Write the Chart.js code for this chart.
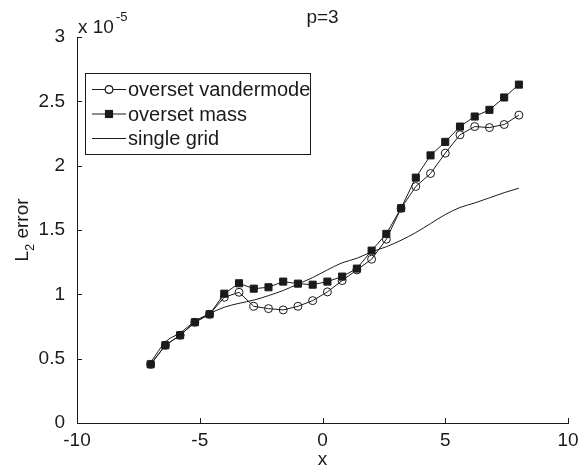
<!DOCTYPE html>
<html>
<head>
<meta charset="utf-8">
<script src="https://cdn.jsdelivr.net/npm/chart.js@4.4.1/dist/chart.umd.min.js"></script>
<style>
  html, body { margin:0; padding:0; background:#fff; }
  #chart { display:block; }
</style>
</head>
<body>
<canvas id="chart" width="581" height="472"></canvas>
<script>
// values are in units of 1e-5
var xs = [-7,-6.4,-5.8,-5.2,-4.6,-4,-3.4,-2.8,-2.2,-1.6,-1,-0.4,0.2,0.8,1.4,2,2.6,3.2,3.8,4.4,5,5.6,6.2,6.8,7.4,8];
var vandermode = [0.456,0.604,0.682,0.783,0.845,0.977,1.016,0.907,0.889,0.879,0.907,0.951,1.019,1.107,1.19,1.273,1.428,1.669,1.838,1.939,2.097,2.24,2.304,2.296,2.32,2.393];
var mass = [0.456,0.604,0.682,0.783,0.845,1.005,1.086,1.044,1.055,1.099,1.083,1.075,1.099,1.138,1.2,1.34,1.47,1.669,1.907,2.08,2.185,2.304,2.382,2.434,2.53,2.63];
var singleGrid = [0.47,0.63,0.70,0.79,0.85,0.90,0.93,0.955,0.99,1.03,1.08,1.13,1.19,1.245,1.28,1.33,1.37,1.42,1.48,1.55,1.62,1.675,1.71,1.75,1.79,1.825];
var seriesNames = ['overset vandermode','overset mass','single grid'];
var xTicks = [-10,-5,0,5,10];
var yTicks = [0,0.5,1,1.5,2,2.5,3];

var FONT = '"Liberation Sans", Arial, Helvetica, sans-serif';
var INK = '#1a1a1a';

function pts(ys)
{
  return xs.map(function(x,i){ return {x:x, y:ys[i]}; });
}

var matlabAxes = {
  id: 'matlabAxes',
  afterDraw: function(chart)
  {
    var ctx = chart.ctx, a = chart.chartArea;
    var sx = chart.scales.x, sy = chart.scales.y;
    ctx.save();

    // inward tick marks
    ctx.strokeStyle = INK;
    ctx.lineWidth = 1;
    ctx.beginPath();
    xTicks.forEach(function(v)
    {
      var px = Math.round(sx.getPixelForValue(v)) + 0.5;
      ctx.moveTo(px, a.bottom); ctx.lineTo(px, a.bottom - 5);
    });
    yTicks.forEach(function(v)
    {
      var py = Math.round(sy.getPixelForValue(v)) + 0.5;
      ctx.moveTo(a.left, py); ctx.lineTo(a.left + 5, py);
    });
    ctx.stroke();

    ctx.fillStyle = INK;
    ctx.textBaseline = 'alphabetic';

    // title
    ctx.font = '19px ' + FONT;
    ctx.textAlign = 'center';
    ctx.fillText('p=3', (a.left + a.right)/2, 23);

    // x label
    ctx.fillText('x', (a.left + a.right)/2, 465);

    // exponent
    ctx.textAlign = 'left';
    ctx.fillText('x 10', a.left + 1, 33);
    ctx.font = '13px ' + FONT;
    ctx.fillText('-5', a.left + 39, 21);

    // y label with subscript
    ctx.translate(28, (a.top + a.bottom)/2);
    ctx.rotate(-Math.PI/2);
    var big = '19px ' + FONT, small = '13px ' + FONT;
    ctx.font = big; var wL = ctx.measureText('L').width; var wE = ctx.measureText(' error').width;
    ctx.font = small; var w2 = ctx.measureText('2').width;
    var x0 = -(wL + w2 + wE)/2;
    ctx.font = big; ctx.fillText('L', x0, 0);
    ctx.font = small; ctx.fillText('2', x0 + wL, 6);
    ctx.font = big; ctx.fillText(' error', x0 + wL + w2, 0);
    ctx.restore();

    // legend box
    var bx = 85, by = 73, bw = 225, bh = 81;
    ctx.save();
    ctx.fillStyle = '#fff';
    ctx.fillRect(bx, by, bw, bh);
    ctx.strokeStyle = INK;
    ctx.lineWidth = 1;
    ctx.strokeRect(bx + 0.5, by + 0.5, bw, bh);
    ctx.font = '20px ' + FONT;
    ctx.textAlign = 'left';
    ctx.textBaseline = 'middle';
    chart.data.datasets.forEach(function(ds, i)
    {
      var cy = by + 16.5 + i*24.5;
      ctx.strokeStyle = INK;
      ctx.beginPath();
      ctx.moveTo(bx + 7, cy); ctx.lineTo(bx + 41, cy);
      ctx.stroke();
      if(ds.pointRadius > 0)
      {
        Chart.helpers.drawPoint(ctx, {
          pointStyle: ds.pointStyle, radius: ds.pointRadius, borderWidth: 1, rotation: 0
        }, bx + 24, cy);
        ctx.fillStyle = ds.pointBackgroundColor;
        ctx.strokeStyle = INK;
        if(ds.pointBackgroundColor != 'transparent') ctx.fill();
        ctx.stroke();
      }
      ctx.fillStyle = INK;
      ctx.fillText(ds.label, bx + 43, cy + 1);
    });
    ctx.restore();
  }
};

new Chart(document.getElementById('chart').getContext('2d'), {
  type: 'scatter',
  data: {
    datasets: [
      { label: seriesNames[0], data: pts(vandermode), showLine: true, borderColor: INK, borderWidth: 1,
        pointStyle: 'circle', pointRadius: 4, pointBorderColor: INK, pointBackgroundColor: 'transparent', pointBorderWidth: 1 },
      { label: seriesNames[1], data: pts(mass), showLine: true, borderColor: INK, borderWidth: 1,
        pointStyle: 'rect', pointRadius: 5, pointBorderColor: INK, pointBackgroundColor: INK, pointBorderWidth: 1 },
      { label: seriesNames[2], data: pts(singleGrid), showLine: true, borderColor: INK, borderWidth: 1,
        cubicInterpolationMode: 'monotone', pointRadius: 0 }
    ]
  },
  options: {
    responsive: false,
    devicePixelRatio: 1,
    animation: false,
    events: [],
    layout: { padding: { top: 37, right: 13, bottom: 0, left: 0 } },
    plugins: { legend: { display: false }, tooltip: { enabled: false } },
    scales: {
      x: {
        type: 'linear', min: -10, max: 10,
        afterFit: function(s){ s.height = 49; },
        afterBuildTicks: function(s){ s.ticks = xTicks.map(function(v){ return {value:v}; }); },
        grid: { display: false },
        border: { display: true, color: INK, width: 1 },
        ticks: { color: INK, font: { family: FONT, size: 19 }, padding: -2, maxRotation: 0,
                 callback: function(v){ return String(v); } }
      },
      y: {
        type: 'linear', min: 0, max: 3,
        afterFit: function(s){ s.width = 77; },
        afterBuildTicks: function(s){ s.ticks = yTicks.map(function(v){ return {value:v}; }); },
        grid: { display: false },
        border: { display: true, color: INK, width: 1 },
        ticks: { color: INK, font: { family: FONT, size: 19 }, padding: 4,
                 callback: function(v){ return String(v); } }
      }
    }
  },
  plugins: [matlabAxes]
});
</script>
</body>
</html>
